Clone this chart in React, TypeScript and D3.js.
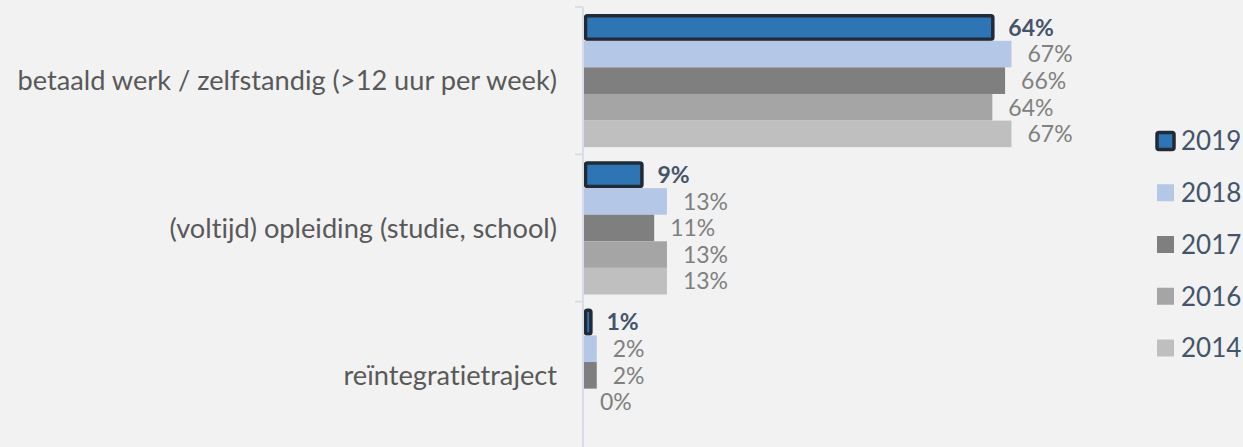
import React from "react";
import * as d3 from "d3";

const categories = [
  "betaald werk / zelfstandig (>12 uur per week)",
  "(voltijd) opleiding (studie, school)",
  "reïntegratietraject",
];
const seriesNames = ["2019", "2018", "2017", "2016", "2014"];
const values2019 = [64, 9, 1];
const values2018 = [67, 13, 2];
const values2017 = [66, 11, 2];
const values2016 = [64, 13, 0];
const values2014: (number | null)[] = [67, 13, null];
const seriesColors = ["#2E75B6", "#B4C7E7", "#7F7F7F", "#A5A5A5", "#BFBFBF"];

const W = 1243;
const H = 447;
const FONT = "Lato, 'Open Sans', sans-serif";

export default function App() {
  const seriesValues = [values2019, values2018, values2017, values2016, values2014];
  const x = d3.scaleLinear().domain([0, 100]).range([584, 584 + 638]);
  const y = d3.scaleBand<string>().domain(categories).range([7, 449]).padding(0);
  const inner = d3
    .scaleBand<string>()
    .domain(seriesNames)
    .range([0, y.bandwidth()])
    .paddingInner(0)
    .paddingOuter(0.27);
  const legendY = d3.scalePoint<string>().domain(seriesNames).range([141, 348]);
  const boundaries = [...categories.map((c) => y(c)!), y.range()[1]];

  return (
    <svg
      width={W}
      height={H}
      style={{
        position: "absolute",
        left: 0,
        top: 0,
        background: "#F2F2F2",
        fontVariantLigatures: "none",
        fontFeatureSettings: '"liga" 0, "clig" 0',
      }}
      fontFamily={FONT}
    >
      <rect x={0} y={0} width={W} height={H} fill="#F2F2F2" />
      {categories.map((cat, ci) => {
        const y0 = y(cat)!;
        return (
          <g key={cat}>
            {seriesNames.map((s, si) => {
              const v = seriesValues[si][ci];
              if (v === null || v === undefined) return null;
              const by = y0 + inner(s)!;
              const bh = inner.bandwidth();
              const isMain = si === 0;
              const w = x(v) - x(0);
              return (
                <g key={s}>
                  {isMain ? (
                    <rect
                      x={x(0) + 1.5}
                      y={by + 1.5}
                      width={Math.max(w - 1, 0)}
                      height={bh - 3}
                      fill={seriesColors[si]}
                      stroke="#222A35"
                      strokeWidth={3.5}
                      rx={2}
                    />
                  ) : (
                    w > 0 && (
                      <rect x={x(0)} y={by} width={w} height={bh} fill={seriesColors[si]} />
                    )
                  )}
                  <text
                    x={x(v) + 16}
                    y={by + bh / 2}
                    dy="0.36em"
                    fontSize={23}
                    fontWeight={isMain ? 700 : 400}
                    fill={isMain ? "#44546A" : "#808080"}
                  >
                    {d3.format(".0%")(v / 100)}
                  </text>
                </g>
              );
            })}
            <text
              x={557}
              y={y0 + y.bandwidth() / 2}
              dy="0.36em"
              textAnchor="end"
              fontSize={27.2}
              fill="#595959"
            >
              {cat}
            </text>
          </g>
        );
      })}
      <line x1={583} x2={583} y1={7} y2={H} stroke="#D9DEE6" strokeWidth={2} />
      {boundaries.map((b, i) => (
        <line key={i} x1={575} x2={583} y1={b} y2={b} stroke="#D9DEE6" strokeWidth={2} />
      ))}
      {seriesNames.map((s, si) => {
        const cy = legendY(s)!;
        return (
          <g key={s}>
            {si === 0 ? (
              <rect
                x={1157}
                y={cy - 8.5}
                width={17}
                height={17}
                fill={seriesColors[si]}
                stroke="#222A35"
                strokeWidth={3.5}
                rx={2}
              />
            ) : (
              <rect x={1157} y={cy - 8.5} width={17} height={17} fill={seriesColors[si]} />
            )}
            <text x={1181} y={cy} dy="0.36em" fontSize={26} fill="#44546A">
              {s}
            </text>
          </g>
        );
      })}
    </svg>
  );
}
